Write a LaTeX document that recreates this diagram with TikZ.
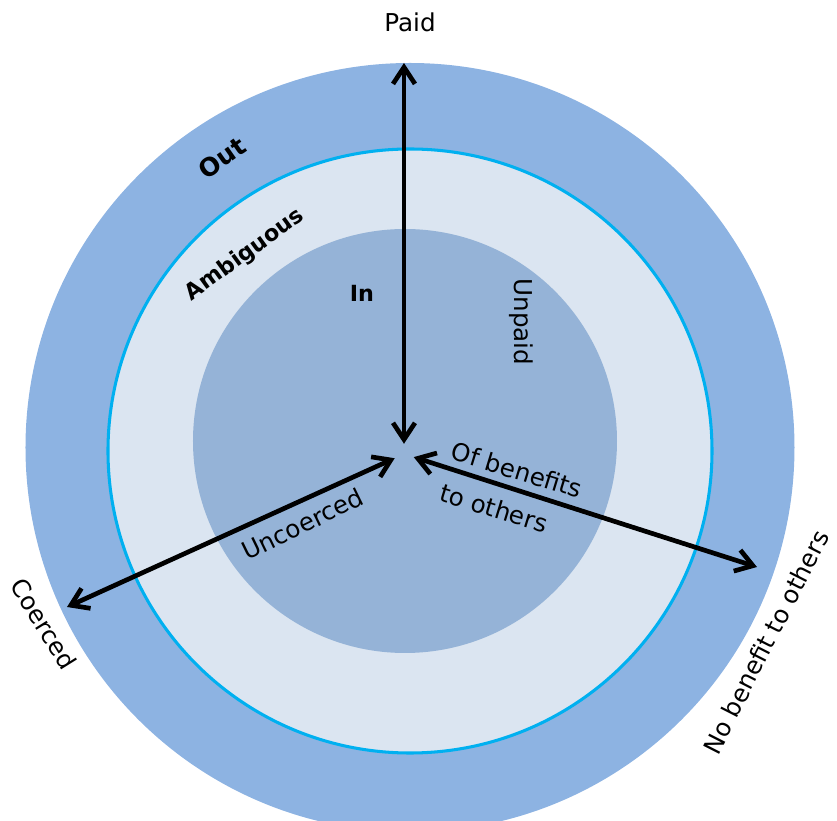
\documentclass[tikz,border=0pt]{standalone}
\usepackage{fontspec}
\setmainfont{DejaVu Sans}
\usetikzlibrary{arrows.meta}
\definecolor{outblue}{RGB}{141,179,226}
\definecolor{ambblue}{RGB}{219,229,241}
\definecolor{inblue}{RGB}{149,179,215}
\definecolor{rimcyan}{RGB}{0,176,240}

\begin{document}
\begin{tikzpicture}[x=0.03cm,y=0.03cm,
    axis/.style={line width=4pt,
      {Straight Barb[length=0.5cm,width=0.66cm]}-{Straight Barb[length=0.5cm,width=0.66cm]}},
    lbl/.style={inner sep=0pt,font=\fontsize{21}{24}\selectfont},
    blbl/.style={inner sep=0pt,font=\fontsize{19}{22}\selectfont\bfseries}]
  \useasboundingbox (-410,450) rectangle (427,-371);
  \clip (-410,450) rectangle (427,-371);

  % the three rings
  \fill[outblue] (0,2.5) circle (384.5);
  \filldraw[fill=ambblue,draw=rimcyan,line width=2.6pt] (0,-1) circle (302);
  \fill[inblue] (-5,9) circle (212);

  \node[lbl] (paid) at (0,427.5) {Paid};
  \node[blbl,rotate=35,font=\fontsize{21.5}{24}\selectfont\bfseries] (out) at (-188,292) {Out};
  \node[blbl,rotate=36] (ambiguous) at (-165,195) {Ambiguous};
  \node[blbl] (in) at (-48,157) {In};
  \node[lbl,rotate=-90] (unpaid) at (111,128) {Unpaid};
  \node[lbl,rotate=-17] (ofbenefit) at (107,-20) {Of benefits};
  \node[lbl,rotate=-17] (toothers) at (84,-58) {to others};
  \node[lbl,rotate=26] (uncoerced) at (-107.5,-74) {Uncoerced};
  \node[lbl,rotate=-58] (coerced) at (-366,-174) {Coerced};
  \node[lbl,rotate=63] (nobenefit) at (356,-192) {No benefit to others};

  % arrows meet near the hub
  \node[circle,inner sep=0pt,minimum size=0.6cm] (hub) at (-6,-4) {};
  \coordinate (paidend) at (-6,387);
  \coordinate (coercedend) at (-343,-157);
  \coordinate (otherend) at (347,-117);

  \draw[axis] (hub) -- (paidend);
  \draw[axis] (hub) -- (coercedend);
  \draw[axis] (hub) -- (otherend);
\end{tikzpicture}
\end{document}
